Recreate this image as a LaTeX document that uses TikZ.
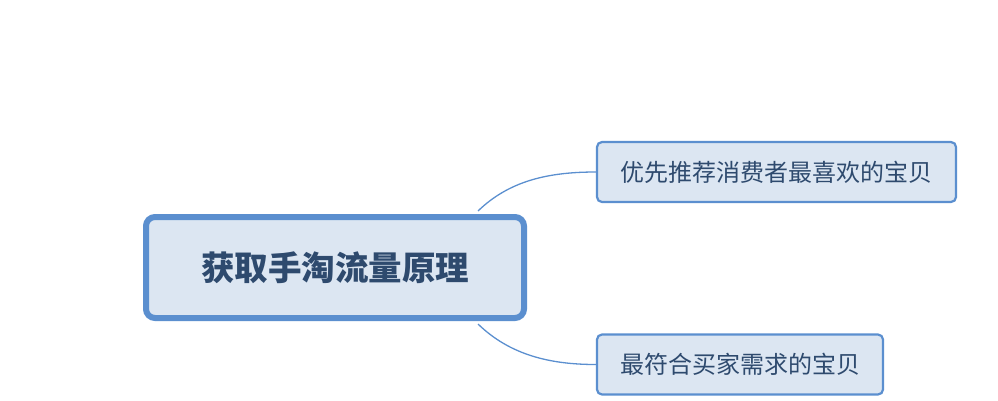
\documentclass[tikz,border=0pt]{standalone}
\usepackage{fontspec}
\newfontfamily\cjk{Noto Sans CJK SC}
\definecolor{bd}{HTML}{5B8FCF}
\definecolor{fl}{HTML}{DCE6F2}
\definecolor{tx}{HTML}{2E4A6E}
\definecolor{ln}{HTML}{5B8FCF}
\tikzset{
 mainbox/.style={draw=bd,fill=fl,line width=6pt,rounded corners=9pt,minimum width=378pt,minimum height=101pt,font=\cjk\bfseries\fontsize{33.5pt}{36pt}\selectfont,text=tx},
 subbox/.style={draw=bd,fill=fl,line width=2.2pt,rounded corners=5pt,minimum height=60pt,font=\cjk\fontsize{24pt}{28pt}\selectfont,text=tx},
 conn/.style={draw=ln,line width=1.3pt}
}
\begin{document}
\begin{tikzpicture}[x=1pt,y=-1pt]
\useasboundingbox (0,0) rectangle (998,400);
\node[mainbox] (c) at (335,267.5) {获取手淘流量原理};
\node[subbox,minimum width=359pt] (a) at (776.5,172) {优先推荐消费者最喜欢的宝贝};
\node[subbox,minimum width=286pt] (b) at (740,364.5) {最符合买家需求的宝贝};
\coordinate (c1) at (478,211);
\coordinate (c2) at (478,324);
\draw[conn] (c1) .. controls (510,180) and (550,172) .. (a.west);
\draw[conn] (c2) .. controls (510,355) and (550,364.5) .. (b.west);
\end{tikzpicture}
\end{document}
